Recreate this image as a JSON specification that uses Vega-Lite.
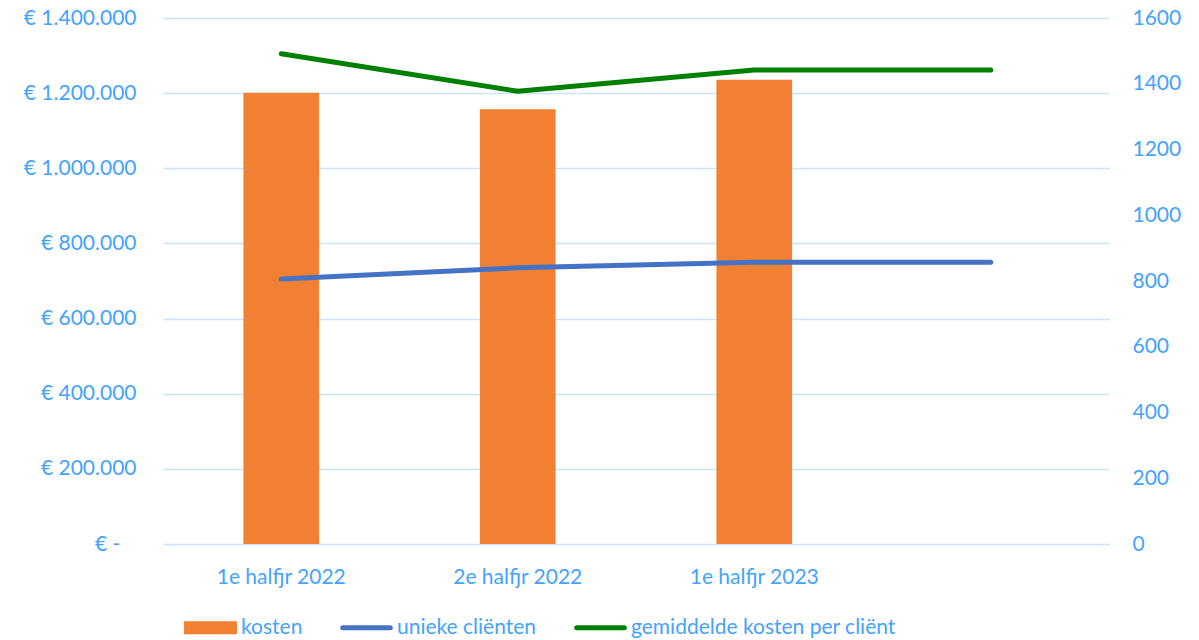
{
  "$schema": "https://vega.github.io/schema/vega-lite/v6.json",
  "width": 946,
  "height": 526,
  "autosize": {"type": "none"},
  "padding": {"left": 163, "top": 18, "right": 90, "bottom": 96},
  "background": "white",
  "config": {"view": {"stroke": null}, "font": "Lato"},
  "data": {
    "values": [
      {"periode": "1e halfjr 2022", "reeks": "kosten", "waarde": 1201300},
      {"periode": "2e halfjr 2022", "reeks": "kosten", "waarde": 1156800},
      {"periode": "1e halfjr 2023", "reeks": "kosten", "waarde": 1235900},
      {"periode": "1e halfjr 2022", "reeks": "unieke cliënten", "waarde": 806},
      {"periode": "2e halfjr 2022", "reeks": "unieke cliënten", "waarde": 840},
      {"periode": "1e halfjr 2023", "reeks": "unieke cliënten", "waarde": 857},
      {"periode": " ", "reeks": "unieke cliënten", "waarde": 857},
      {"periode": "1e halfjr 2022", "reeks": "gemiddelde kosten per cliënt", "waarde": 1491},
      {"periode": "2e halfjr 2022", "reeks": "gemiddelde kosten per cliënt", "waarde": 1377},
      {"periode": "1e halfjr 2023", "reeks": "gemiddelde kosten per cliënt", "waarde": 1442},
      {"periode": " ", "reeks": "gemiddelde kosten per cliënt", "waarde": 1442}
    ]
  },
  "encoding": {
    "x": {
      "field": "periode",
      "type": "nominal",
      "sort": ["1e halfjr 2022", "2e halfjr 2022", "1e halfjr 2023", " "],
      "scale": {"domain": ["1e halfjr 2022", "2e halfjr 2022", "1e halfjr 2023", " "], "paddingInner": 0, "paddingOuter": 0},
      "axis": {"title": null, "labelAngle": 0, "domain": false, "ticks": false, "tickSize": 0, "grid": false, "labelPadding": 22, "labelFontSize": 21, "labelColor": "#45A2FF", "labelFont": "Lato"}
    }
  },
  "layer": [
    {
      "transform": [{"filter": "datum.reeks === 'kosten'"}],
      "mark": {"type": "bar", "width": {"band": 0.32}, "color": "#F28033"},
      "encoding": {
        "y": {
          "field": "waarde",
          "type": "quantitative",
          "scale": {"domain": [0, 1400000], "nice": false},
          "axis": {
            "orient": "left",
            "title": null,
            "values": [0, 200000, 400000, 600000, 800000, 1000000, 1200000, 1400000],
            "labelExpr": "datum.value == 0 ? '€ -\u00a0\u00a0\u00a0\u200b' : '€ ' + replace(replace(format(datum.value, ',.0f'), ',', '.'), ',', '.')",
            "grid": true,
            "gridColor": "#CCE4FB",
            "gridWidth": 1.5,
            "domain": false,
            "ticks": false,
            "tickSize": 0,
            "labelPadding": 27,
            "labelFontSize": 21,
            "labelColor": "#45A2FF",
            "labelFont": "Lato"
          }
        },
        "color": {
          "field": "reeks",
          "type": "nominal",
          "scale": {"domain": ["kosten", "unieke cliënten", "gemiddelde kosten per cliënt"], "range": ["#F28033", "#4472C4", "#008000"]},
          "legend": {
            "title": null,
            "orient": "none",
            "legendX": 37,
            "legendY": 599,
            "direction": "horizontal",
            "padding": 0,
            "labelFontSize": 21,
            "labelFont": "Lato",
            "labelColor": "#45A2FF",
            "labelOffset": 20,
            "labelLimit": 400,
            "columnPadding": 29,
            "symbolSize": 2800,
            "symbolStrokeWidth": 5,
            "encode": {
              "symbols": {
                "update": {
                  "shape": {"signal": "datum.value === 'kosten' ? 'M-1,-0.25H1V0.25H-1Z' : 'M-0.9,0H0.9'"},
                  "strokeCap": {"value": "round"},
                  "strokeWidth": {"signal": "datum.value === 'kosten' ? 0 : 5"},
                  "fill": {"signal": "datum.value === 'kosten' ? '#F28033' : 'transparent'"},
                  "stroke": {"signal": "datum.value === 'kosten' ? 'transparent' : (datum.value === 'unieke cliënten' ? '#4472C4' : '#008000')"},
                  "opacity": {"value": 1}
                }
              }
            }
          }
        }
      }
    },
    {
      "transform": [{"filter": "datum.reeks !== 'kosten'"}],
      "mark": {"type": "line", "strokeWidth": 5, "strokeCap": "round", "strokeJoin": "round"},
      "encoding": {
        "y": {
          "field": "waarde",
          "type": "quantitative",
          "scale": {"domain": [0, 1600], "nice": false},
          "axis": {
            "orient": "right",
            "title": null,
            "values": [0, 200, 400, 600, 800, 1000, 1200, 1400, 1600],
            "format": "d",
            "grid": false,
            "domain": false,
            "ticks": false,
            "tickSize": 0,
            "labelPadding": 23,
            "labelFontSize": 21,
            "labelColor": "#45A2FF",
            "labelFont": "Lato"
          }
        },
        "color": {"field": "reeks", "type": "nominal"}
      }
    }
  ],
  "resolve": {"scale": {"y": "independent"}}
}
